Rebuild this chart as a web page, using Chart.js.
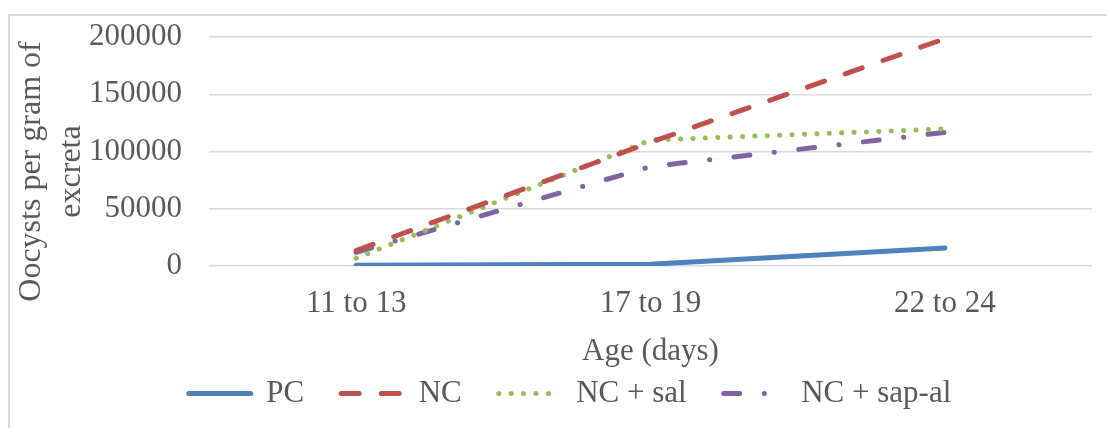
<!DOCTYPE html>
<html>
<head>
<meta charset="utf-8">
<script src="https://cdn.jsdelivr.net/npm/chart.js@4"></script>
<style>
  body { margin: 0; background: #fff; }
  #wrap { position: absolute; left: 0; top: 0; width: 1107px; height: 428px; }
  #frame { position: absolute; left: 8px; top: 14px; width: 1110px; height: 420px; border: 2px solid #d9d9d9; box-sizing: border-box; }
</style>
</head>
<body>
<div id="wrap">
  <canvas id="myChart" width="1107" height="428"></canvas>
  <div id="frame"></div>
</div>
<script>
let ages = ["11 to 13", "17 to 19", "22 to 24"];
let pcValues = [600, 1500, 15800];
let ncValues = [13500, 108000, 198500];
let ncSalValues = [6800, 110000, 119700];
let ncSapAlValues = [12000, 86800, 116700];
let yTicks = [0, 50000, 100000, 150000, 200000];

let textColor = '#595959';
let fontName = '"Liberation Serif", "Times New Roman", serif';

let ctx = document.getElementById('myChart');

function makeSeries(label, data, color, dash) {
    return {
        label: label,
        data: data,
        borderColor: color,
        backgroundColor: color,
        borderWidth: 5,
        borderDash: dash,
        borderCapStyle: 'round',
        pointRadius: 0,
        pointHoverRadius: 0,
        tension: 0,
        fill: false
    }
}

const myChart = new Chart(ctx, {
    type: 'line',
    data: {
        labels: ages,
        datasets: [
            makeSeries('PC', pcValues, '#4f81bd', []),
            makeSeries('NC', ncValues, '#c0504d', [18, 22]),
            makeSeries('NC + sal', ncSalValues, '#9bbb59', [0.1, 12.3]),
            makeSeries('NC + sap-al', ncSapAlValues, '#8064a2', [16, 24.5, 0.1, 24.5])
        ]
    },
    options: {
        responsive: false,
        animation: false,
        devicePixelRatio: 1,
        // left padding is big so the legend sits centred like the original
        layout: { padding: { left: 48, right: 15, top: 37, bottom: 9 } },
        plugins: {
            tooltip: { enabled: false },
            legend: {
                position: 'bottom',
                labels: {
                    usePointStyle: true,
                    pointStyleWidth: 62,
                    boxHeight: 6,
                    padding: 37,
                    color: textColor,
                    font: { family: fontName, size: 31 },
                    generateLabels: function(chart) {
                        return chart.data.datasets.map(function(ds, i) {
                            return {
                                text: ds.label,
                                strokeStyle: ds.borderColor,
                                fillStyle: ds.borderColor,
                                lineWidth: ds.borderWidth,
                                lineDash: ds.borderDash,
                                lineCap: 'round',
                                pointStyle: 'line',
                                fontColor: textColor,
                                hidden: false,
                                datasetIndex: i
                            }
                        })
                    }
                }
            }
        },
        scales: {
            x: {
                offset: true,
                grid: { display: false },
                border: { display: false },
                ticks: {
                    padding: 11,
                    maxRotation: 0,
                    color: textColor,
                    font: { family: fontName, size: 31 }
                },
                title: {
                    display: true,
                    text: 'Age (days)',
                    color: textColor,
                    padding: { top: 0, bottom: -29 },
                    font: { family: fontName, size: 31 }
                },
                afterFit: function(scale) { scale.height = 75; }
            },
            y: {
                min: 0,
                max: 200000,
                afterBuildTicks: function(scale) {
                    scale.ticks = yTicks.map(v => ({ value: v }));
                },
                // invisible tick marks give the gap between labels and plot
                grid: { color: '#d9d9d9', lineWidth: 1.5, drawTicks: true, tickLength: 27, tickColor: 'rgba(0,0,0,0)' },
                border: { display: false },
                ticks: {
                    padding: 0,
                    color: textColor,
                    font: { family: fontName, size: 31 },
                    callback: function(v) { return String(v); }
                },
                title: {
                    display: true,
                    text: ['Oocysts per gram of     ', 'excreta     '],
                    color: textColor,
                    padding: { top: -36, bottom: 0 },
                    font: { family: fontName, size: 32, lineHeight: 1.25 }
                },
                afterFit: function(scale) { scale.width = 161; }
            }
        }
    }
});
</script>
</body>
</html>
